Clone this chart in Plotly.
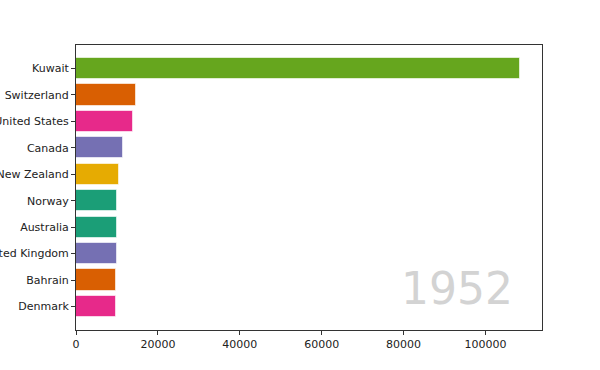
import plotly.graph_objects as go

countries = ["Kuwait", "Switzerland", "United States", "Canada", "New Zealand",
             "Norway", "Australia", "United Kingdom", "Bahrain", "Denmark"]
gdp = [108382.35, 14734.23, 13990.48, 11367.16, 10556.58,
       10095.42, 10039.60, 9979.51, 9867.08, 9692.39]
colors = ["#66a61e", "#d95f02", "#e7298a", "#7570b3", "#e6ab02",
          "#1b9e77", "#1b9e77", "#7570b3", "#d95f02", "#e7298a"]
year = "1952"
xticks = [0, 20000, 40000, 60000, 80000, 100000]

n = len(countries)
ypos = [n - 1 - i for i in range(n)]

fig = go.Figure(go.Bar(
    x=gdp, y=ypos, orientation="h", width=0.8,
    marker=dict(color=colors, line=dict(color="rgba(255,255,255,0.6)", width=1)),
    hoverinfo="skip",
))

font = dict(family="DejaVu Sans", size=11, color="#222")
fig.update_layout(
    width=600, height=370,
    margin=dict(l=76, r=58, t=45, b=40, autoexpand=False),
    plot_bgcolor="white", paper_bgcolor="white",
    showlegend=False, bargap=0,
    font=font,
    xaxis=dict(range=[0, max(gdp) * 1.05], tickvals=xticks,
               ticktext=[str(v) for v in xticks], automargin=False,
               showgrid=False, zeroline=False, showline=True, mirror=True,
               linecolor="#333", linewidth=1, ticks="outside", ticklen=4,
               tickcolor="#333", tickfont=font),
    yaxis=dict(range=[-0.89, n - 1 + 0.89], tickvals=ypos, ticktext=countries,
               automargin=False,
               showgrid=False, zeroline=False, showline=True, mirror=True,
               linecolor="#333", linewidth=1, ticks="outside", ticklen=4,
               tickcolor="#333", tickfont=font),
    annotations=[dict(text=year, xref="paper", yref="paper", x=0.942, y=0.05,
                      xanchor="right", yanchor="bottom", showarrow=False,
                      font=dict(family="DejaVu Sans", size=44, color="#d3d3d3"))],
)

fig.write_html("out.html")
